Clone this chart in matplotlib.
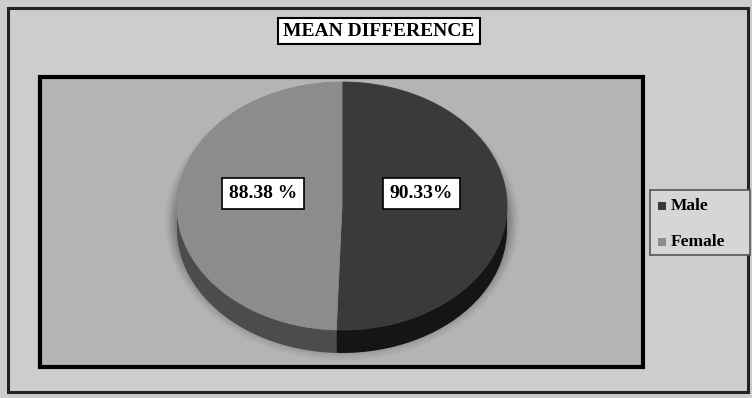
import numpy as np
import matplotlib.pyplot as plt
from matplotlib.patches import Rectangle, Polygon

# data
labels = ["Male", "Female"]
values = [90.33, 88.38]
value_text = ["90.33%", "88.38 %"]
title = "MEAN DIFFERENCE"

top_colors = ["#3a3a3a", "#8c8c8c"]
side_colors = ["#151515", "#4c4c4c"]

W, H = 752, 398
fig = plt.figure(figsize=(W / 100, H / 100), dpi=100)
fig.patch.set_facecolor("#cdcdcd")
ax = fig.add_axes([0, 0, 1, 1])
ax.set_xlim(0, W)
ax.set_ylim(0, H)
ax.axis("off")

serif = ["Liberation Serif", "DejaVu Serif"]

# frames (pixel coordinates, y up)
ax.add_patch(Rectangle((8, 6), 740, 384, fill=False, ec="#222222", lw=2.2))
ax.add_patch(Rectangle((40, 31), 603, 290, fc="#b4b4b4", ec="black", lw=3))

# 3D pie geometry
cx, cy = 342, 192
a, b, depth = 165, 124, 23
frac = np.array(values) / sum(values)
bounds = 90 - 360 * np.concatenate([[0], np.cumsum(frac)])  # clockwise from top

def ell(th):
    t = np.radians(th)
    return cx + a * np.cos(t), cy + b * np.sin(t)

# soft shadow
for k, al in zip(range(6, 0, -1), np.linspace(0.03, 0.08, 6)):
    th = np.linspace(0, 360, 200)
    x, y = ell(th)
    ax.fill(cx + (x - cx) * (1 + k * 0.012), cy - depth / 2 + (y - cy) * (1 + k * 0.02) - 4,
            color="black", alpha=al, lw=0, zorder=1)

# sides: visible lower half only
for i in range(len(values)):
    t1, t2 = bounds[i + 1], bounds[i]
    lo, hi = sorted([t1, t2])
    segs = []
    for off in (0, -360, 360):
        s, e = max(lo, 180 + off), min(hi, 360 + off)
        if e > s:
            segs.append((s, e))
    for s, e in segs:
        th = np.linspace(s, e, 120)
        x, y = ell(th)
        xs = np.concatenate([x, x[::-1]])
        ys = np.concatenate([y, y[::-1] - depth])
        ax.add_patch(Polygon(np.column_stack([xs, ys]), fc=side_colors[i], ec="none", zorder=2))

# tops
for i in range(len(values)):
    th = np.linspace(bounds[i + 1], bounds[i], 200)
    x, y = ell(th)
    pts = np.column_stack([np.r_[cx, x], np.r_[cy, y]])
    ax.add_patch(Polygon(pts, fc=top_colors[i], ec=top_colors[i], lw=0.6, zorder=3))

# value labels
for i in range(len(values)):
    mid = np.radians((bounds[i] + bounds[i + 1]) / 2)
    lx = cx + 0.48 * a * np.cos(mid)
    ly = cy + 13
    ax.text(lx + 1.5, ly - 1.5, value_text[i], ha="center", va="center", fontsize=14,
            fontweight="bold", family=serif, color="none", zorder=4,
            bbox=dict(boxstyle="square,pad=0.36", fc="#555555", ec="none", alpha=0.6))
    ax.text(lx, ly, value_text[i], ha="center", va="center", fontsize=14,
            fontweight="bold", family=serif, color="black", zorder=5,
            bbox=dict(boxstyle="square,pad=0.36", fc="white", ec="black", lw=1.2))

# title
ax.text(379, H - 31, title, ha="center", va="center", fontsize=14, fontweight="bold",
        family=serif, zorder=5,
        bbox=dict(boxstyle="square,pad=0.25", fc="white", ec="black", lw=1.5))

# legend
ax.add_patch(Rectangle((650, H - 255), 100, 65, fc="#d6d6d6", ec="#555555", lw=1.2))
for i, lab in enumerate(labels):
    yy = H - 206 - i * 36
    ax.add_patch(Rectangle((658, yy - 4), 8, 8, fc=top_colors[i], ec="none"))
    ax.text(671, yy, lab, ha="left", va="center", fontsize=12.5, fontweight="bold",
            family=serif)

fig.savefig("out.png", dpi=100, facecolor=fig.get_facecolor())
